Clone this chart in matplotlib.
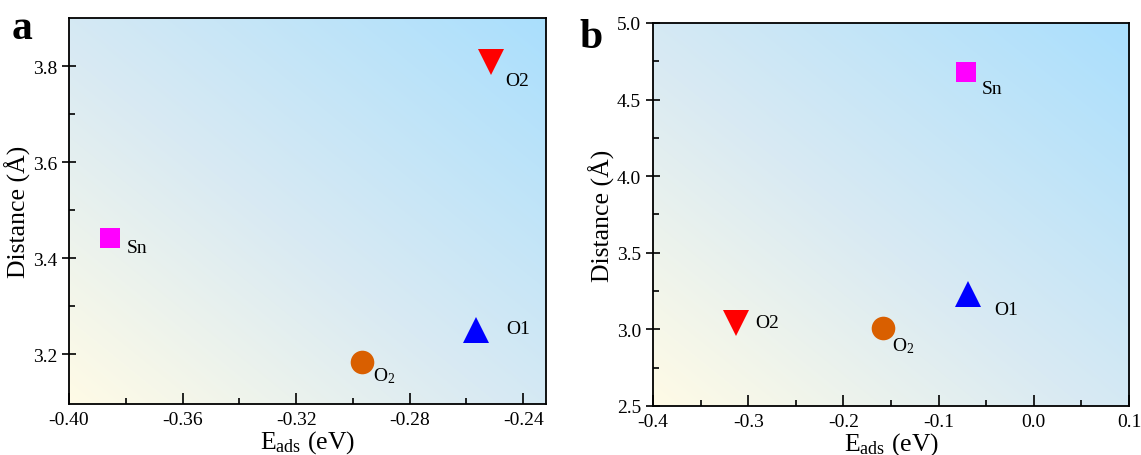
import numpy as np
import matplotlib
matplotlib.use("Agg")
import matplotlib.pyplot as plt
from matplotlib.colors import LinearSegmentedColormap

plt.rcParams['font.family'] = ['Liberation Serif', 'DejaVu Serif']
plt.rcParams['mathtext.fontset'] = 'custom'
plt.rcParams['mathtext.rm'] = 'Liberation Serif'
plt.rcParams['mathtext.it'] = 'Liberation Serif'

# data
labels = ["Sn", "O2", "O1", "O$_2$"]
markers = ["s", "v", "^", "o"]
colors = ["#ff00ff", "#ff0000", "#0000ff", "#d95f00"]
sizes = [15, 19, 19, 17]

a_x = [-0.3856, -0.2514, -0.2567, -0.2968]
a_y = [3.442, 3.808, 3.250, 3.183]
b_x = [-0.071, -0.313, -0.069, -0.158]
b_y = [4.68, 3.042, 3.231, 3.009]

# text offsets (points)
a_off = [(12, -7), (10, -13), (22, 1), (8, -9)]
b_off = [(11, -12), (14, 0), (19, -11), (6, -12)]

fig = plt.figure(figsize=(11.41, 4.56), dpi=100)
axa = fig.add_axes([0.0605, 0.1118, 0.418, 0.8465])
axb = fig.add_axes([0.5723, 0.1075, 0.4172, 0.840])

cmap = LinearSegmentedColormap.from_list(
    "bg", [(0.0, "#fffbe6"), (0.45, "#d9eaf3"), (1.0, "#aadffd")])
gx, gy = np.meshgrid(np.linspace(0, 1, 300), np.linspace(0, 1, 300))
grad = (gx + gy) / 2.0

def draw(ax, xs, ys, offs, xlim, ylim, xticks, yticks, xfmt, yfmt, xminor, yminor):
    ax.imshow(grad, cmap=cmap, origin='lower', extent=[0, 1, 0, 1],
              transform=ax.transAxes, aspect='auto', zorder=0, interpolation='bilinear')
    for x, y, m, c, s, lab, off in zip(xs, ys, markers, colors, sizes, labels, offs):
        ax.plot([x], [y], marker=m, color=c, markersize=s, linestyle='none', zorder=3,
                markeredgewidth=0)
        ax.annotate(lab, (x, y), xytext=off, textcoords='offset points',
                    fontsize=14, ha='left', va='center', zorder=4)
    ax.set_xlim(*xlim)
    ax.set_ylim(*ylim)
    ax.set_xticks(xticks)
    ax.set_xticklabels([xfmt.format(v) for v in xticks])
    ax.set_yticks(yticks)
    ax.set_yticklabels([yfmt.format(v) for v in yticks])
    ax.set_xticks(xminor, minor=True)
    ax.set_yticks(yminor, minor=True)
    ax.tick_params(axis='x', which='major', direction='in', length=8, width=1.2, labelsize=14, pad=5)
    ax.tick_params(axis='x', which='minor', direction='in', length=4, width=1.2)
    ax.tick_params(axis='y', which='major', direction='inout', length=10, width=1.2, labelsize=14)
    ax.tick_params(axis='y', which='minor', direction='in', length=4, width=1.2)
    for sp in ax.spines.values():
        sp.set_linewidth(1.3)
        sp.set_zorder(5)
    ax.set_xlabel("E$_{\\mathrm{ads}}$ (eV)", fontsize=18.5, labelpad=0)
    ax.set_ylabel("Distance (Å)", fontsize=18.5, labelpad=1.5)

draw(axa, a_x, a_y, a_off, (-0.40, -0.232), (3.096, 3.9),
     [-0.40, -0.36, -0.32, -0.28, -0.24], [3.2, 3.4, 3.6, 3.8], "{:.2f}", "{:.1f}",
     [-0.38, -0.34, -0.30, -0.26], [3.3, 3.5, 3.7])
draw(axb, b_x, b_y, b_off, (-0.4, 0.1), (2.5, 5.0),
     [-0.4, -0.3, -0.2, -0.1, 0.0, 0.1], [2.5, 3.0, 3.5, 4.0, 4.5, 5.0], "{:.1f}", "{:.1f}",
     [-0.35, -0.25, -0.15, -0.05, 0.05], [2.75, 3.25, 3.75, 4.25, 4.75])

fig.text(0.010, 0.915, "a", fontsize=30, fontweight='bold')
fig.text(0.508, 0.895, "b", fontsize=30, fontweight='bold')

fig.savefig("out.png", dpi=100)
